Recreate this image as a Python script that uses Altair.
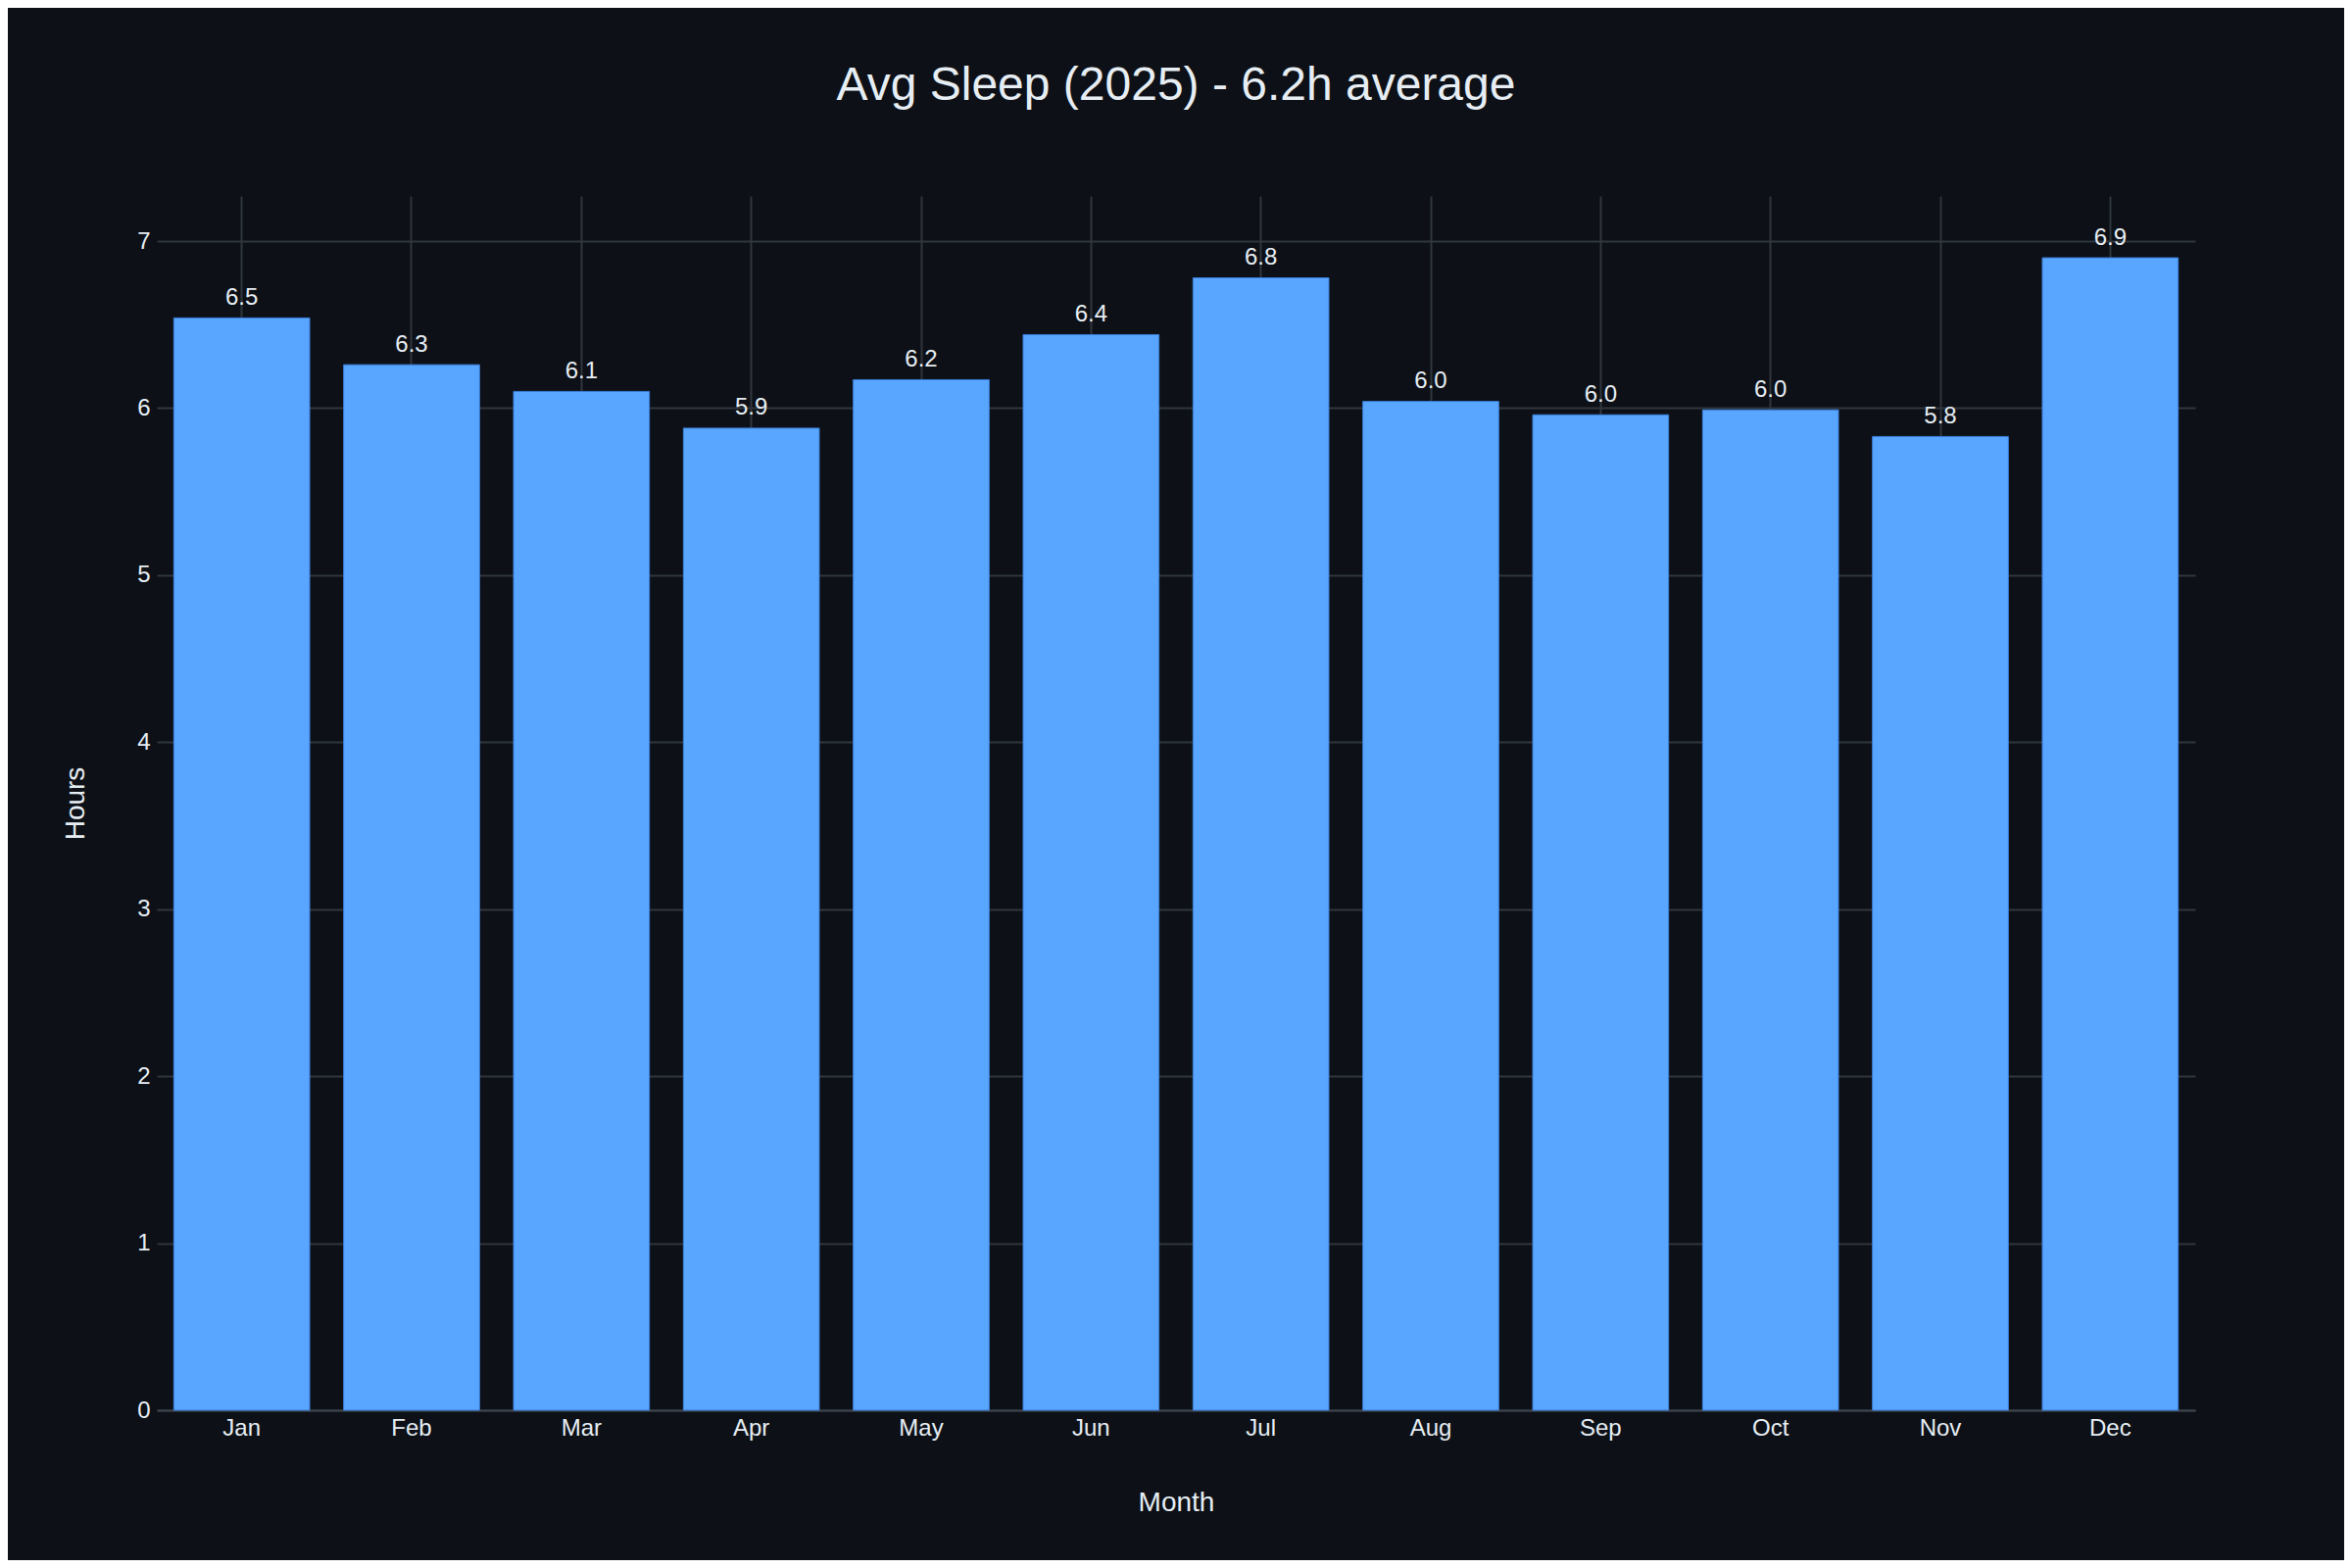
import altair as alt
import pandas as pd

months = ["Jan", "Feb", "Mar", "Apr", "May", "Jun", "Jul", "Aug", "Sep", "Oct", "Nov", "Dec"]
hours = [6.54, 6.26, 6.10, 5.88, 6.17, 6.44, 6.78, 6.04, 5.96, 5.99, 5.83, 6.90]
y_ticks = [0, 1, 2, 3, 4, 5, 6, 7]

df = pd.DataFrame({"Month": months, "Hours": hours})

BG = "#0d1117"
FG = "#e6edf3"
GRID = "#30363d"
BAR = "#58a6ff"
FONT = "Liberation Sans"

x = alt.X(
    "Month:N",
    sort=months,
    scale=alt.Scale(paddingInner=0.2, paddingOuter=0.1),
    axis=alt.Axis(
        title="Month",
        labelAngle=0,
        bandPosition=0.5,
        grid=True,
        gridColor=GRID,
        gridWidth=2,
        ticks=False,
        tickSize=0,
        domain=True,
        domainColor="#3d444d",
        domainWidth=2,
        labelPadding=6,
        labelFontSize=24,
        labelColor=FG,
        labelFont=FONT,
        titleFontSize=28,
        titleFontWeight="normal",
        titleColor=FG,
        titleFont=FONT,
        titleBaseline="alphabetic",
        titleX=1040,
        titleY=102,
        titleAlign="center",
    ),
)

y = alt.Y(
    "Hours:Q",
    scale=alt.Scale(domain=[0, 7.27], nice=False, zero=True),
    axis=alt.Axis(
        title="Hours",
        values=y_ticks,
        format="d",
        grid=True,
        gridColor=GRID,
        gridWidth=2,
        ticks=False,
        tickSize=0,
        domain=False,
        labelPadding=7,
        labelFontSize=24,
        labelColor=FG,
        labelFont=FONT,
        titleFontSize=28,
        titleFontWeight="normal",
        titleColor=FG,
        titleFont=FONT,
        titleAngle=-90,
        titleBaseline="alphabetic",
        titleAlign="center",
        titleX=-75,
        titleY=619.5,
    ),
)

bars = alt.Chart(df).mark_bar(color=BAR, stroke="#3b7dd8", strokeWidth=1).encode(x=x, y=y)

labels = alt.Chart(df).mark_text(
    baseline="alphabetic", align="center", dy=-13.5, fontSize=24, color=FG, font=FONT
).encode(
    x=alt.X("Month:N", sort=months),
    y=alt.Y("Hours:Q"),
    text=alt.Text("Hours:Q", format=".1f"),
)

chart = (
    alt.layer(bars, labels)
    .properties(
        width=2080,
        height=1239,
        background=BG,
        padding={"left": 152, "top": 192, "right": 152, "bottom": 153},
        autosize=alt.AutoSizeParams(type="none"),
        title=alt.TitleParams(
            text="Avg Sleep (2025) - 6.2h average",
            fontSize=48,
            fontWeight="normal",
            color=FG,
            font=FONT,
            anchor="middle",
            baseline="alphabetic",
            offset=50,
        ),
    )
    .configure_view(stroke=None)
)

chart.save("out.html", embed_options={"renderer": "svg", "actions": False})
